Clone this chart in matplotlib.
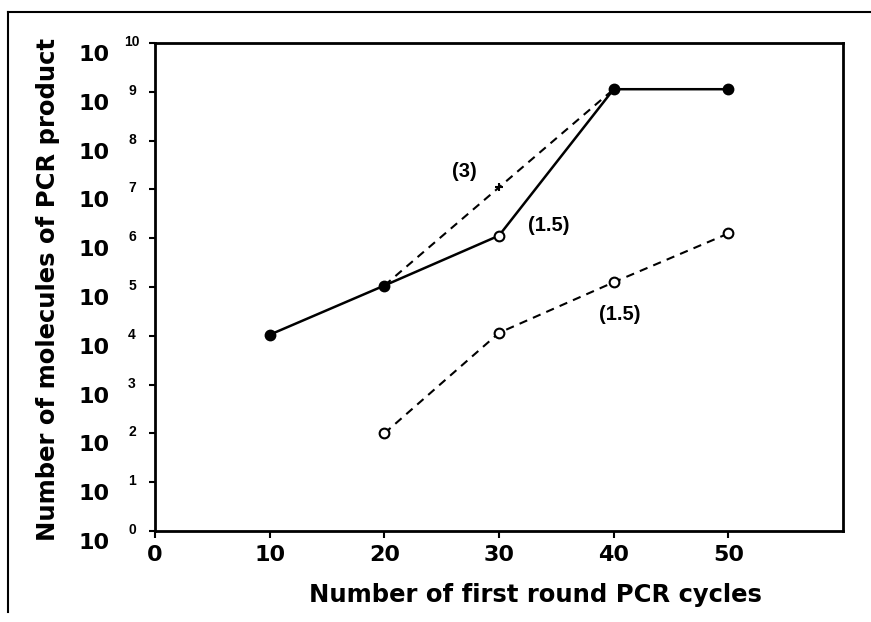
import matplotlib
matplotlib.use("Agg")
import matplotlib.pyplot as plt
from matplotlib.lines import Line2D
import matplotlib.transforms as mtransforms

plt.rcParams['font.family'] = ['Liberation Sans', 'DejaVu Sans']
plt.rcParams['font.weight'] = 'bold'

# Data
cycles = [10, 20, 30, 40, 50]
main_vals = [1.05e4, 1.07e5, 1.13e6, 1.13e9, 1.13e9]
main_filled = [True, True, False, True, True]
steep_x = [20, 30, 40]
steep_vals = [1.07e5, 1.1e7, 1.13e9]
low_x = [20, 30, 40, 50]
low_vals = [1.0e2, 1.15e4, 1.25e5, 1.25e6]
ann_text = ["(3)", "(1.5)", "(1.5)"]
ann_x = [27.0, 34.3, 40.5]
ann_y = [10**7.36, 10**6.27, 10**4.43]
x_ticks = [0, 10, 20, 30, 40, 50]
x_ticklabels = ["0", "10", "20", "30", "40", "50"]
y_exps = list(range(0, 11))

fig = plt.figure(figsize=(8.71, 6.22), dpi=100)
ax = fig.add_axes([155/871, 1-531/622, (843-155)/871, (531-43)/622])

ax.set_yscale('log')
ax.set_xlim(0, 60)
ax.set_ylim(1, 1e10)

# main solid line
ax.plot(cycles, main_vals, color='black', lw=1.8, zorder=2)
for x, y, f in zip(cycles, main_vals, main_filled):
    ax.plot([x], [y], marker='o', ms=7, mfc='black' if f else 'white',
            mec='black', mew=1.5, zorder=3)
# steep dashed line
ax.plot(steep_x, steep_vals, color='black', lw=1.5, ls=(0, (4, 3)), zorder=1)
ax.plot([steep_x[1]], [steep_vals[1]], marker='+', ms=6, mew=1.5, color='black', zorder=3)
# lower dashed line
ax.plot(low_x, low_vals, color='black', lw=1.5, ls=(0, (4, 3)),
        marker='o', ms=7, mfc='white', mec='black', mew=1.5, zorder=2)

for t, x, y in zip(ann_text, ann_x, ann_y):
    ax.text(x, y, t, ha='center', va='center', fontsize=14.5, fontweight='bold')

for s in ax.spines.values():
    s.set_linewidth(2)

tickfont = ['DejaVu Sans']
ax.set_xticks(x_ticks)
ax.set_xticklabels(x_ticklabels, fontsize=16, fontweight='bold', family=tickfont)
ax.tick_params(axis='x', direction='out', length=5, width=1.5, pad=5)
ax.minorticks_off()
ax.set_yticks([10.0**e for e in y_exps])
ax.set_yticklabels(["10"] * len(y_exps), fontsize=16, fontweight='bold', family=tickfont)
ax.tick_params(axis='y', direction='out', length=4, width=1.5, pad=28.5)
off = mtransforms.ScaledTranslation(0, -10/100, fig.dpi_scale_trans)
for lab in ax.get_yticklabels():
    lab.set_transform(lab.get_transform() + off)
for e in y_exps:
    ax.annotate(str(e), xy=(0, 10.0**e), xycoords=('axes fraction', 'data'),
                xytext=(-23, 1), textcoords='offset pixels',
                ha='center', va='center', fontsize=10, fontweight='bold')

ax.set_xlabel("Number of first round PCR cycles", fontsize=17.5, fontweight='bold',
              family=['DejaVu Sans'])
ax.xaxis.set_label_coords((535-155)/688, (531-583)/488)
ax.set_ylabel("Number of molecules of PCR product", fontsize=17.5, fontweight='bold',
              va='center', family=['DejaVu Sans'])
ax.yaxis.set_label_coords((48-155)/688, 0.494)

# outer frame
fig.add_artist(Line2D([8/871, 8/871], [1-612/622, 1-12/622], color='black', lw=1.5))
fig.add_artist(Line2D([8/871, 1.0], [1-12/622, 1-12/622], color='black', lw=1.5))

fig.savefig("out.png", dpi=100)
